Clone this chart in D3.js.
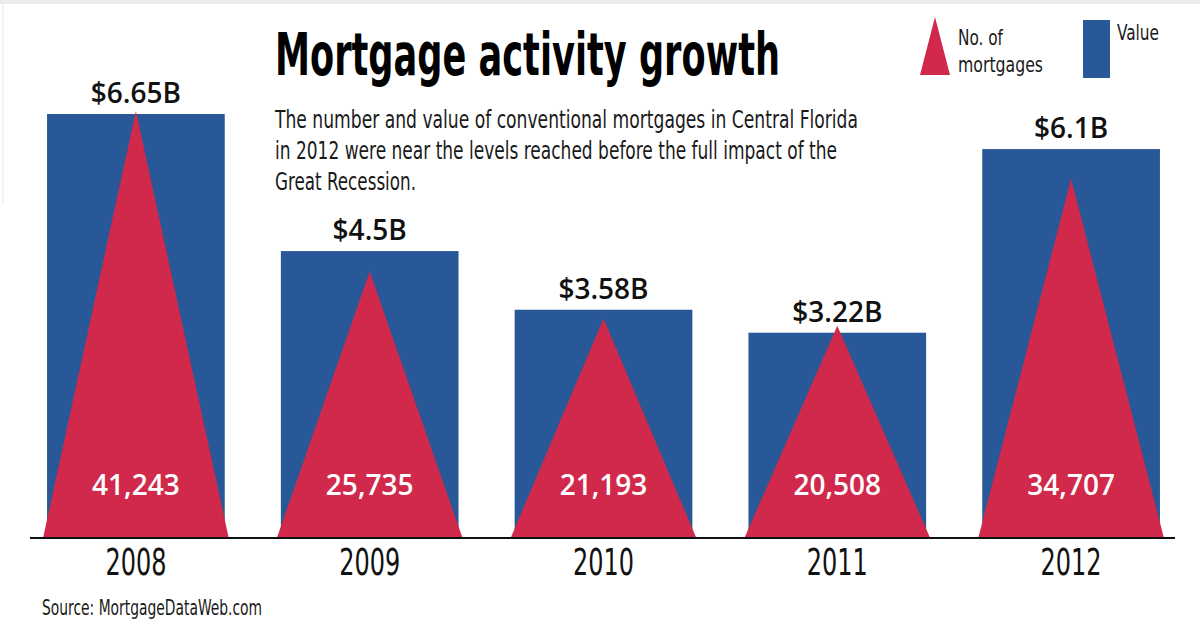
<!DOCTYPE html>
<html><head><meta charset="utf-8">
<script src="https://cdn.jsdelivr.net/npm/d3@7"></script>
<style>html,body{margin:0;padding:0;background:#fff;}svg{display:block;}</style>
</head><body>
<script>
const years = ["2008","2009","2010","2011","2012"];
const valuesB = [6.65, 4.5, 3.58, 3.22, 6.1];
const valueLabels = ["$6.65B","$4.5B","$3.58B","$3.22B","$6.1B"];
const mortgageCounts = [41243, 25735, 21193, 20508, 34707];
const countLabels = ["41,243","25,735","21,193","20,508","34,707"];
const subtitleLines = [
  "The number and value of conventional mortgages in Central Florida",
  "in 2012 were near the levels reached before the full impact of the",
  "Great Recession."
];
const legendLines = ["No. of", "mortgages"];

const W = 1200, H = 627;
const BLUE = "#285897", RED = "#d0294b";
const COND = "'Liberation Sans Narrow','DejaVu Sans Condensed','Open Sans',sans-serif";
const SEMI = "'Open Sans','Noto Sans',sans-serif";

const svg = d3.select("body").append("svg").attr("width", W).attr("height", H);
svg.append("rect").attr("width", W).attr("height", H).attr("fill", "#fff");
svg.append("rect").attr("x", 0).attr("y", 0).attr("width", W).attr("height", 4).attr("fill", "#ebebeb");
svg.append("rect").attr("x", 2).attr("y", 4).attr("width", 2).attr("height", 200).attr("fill", "#f3f3f3");

const baseY = 538;
const x = d3.scaleBand().domain(years).range([19, 1188]).paddingInner(0.24).paddingOuter(0.12);
const yVal = d3.scaleLinear().domain([0, 6.65]).range([baseY, 114]);
const yCnt = d3.scaleLinear().domain([0, 41243]).range([baseY, 111]);

const data = years.map((y, i) => ({year: y, v: valuesB[i], vl: valueLabels[i], c: mortgageCounts[i], cl: countLabels[i]}));

// bars
svg.append("g").selectAll("rect").data(data).join("rect")
  .attr("x", d => x(d.year)).attr("width", x.bandwidth())
  .attr("y", d => yVal(d.v)).attr("height", d => baseY - yVal(d.v))
  .attr("fill", BLUE);

// triangles
const half = x.bandwidth() / 2 + 4;
svg.append("g").selectAll("path").data(data).join("path")
  .attr("d", d => {
    const cx = x(d.year) + x.bandwidth() / 2;
    return `M${cx - half},${baseY}L${cx},${yCnt(d.c)}L${cx + half},${baseY}Z`;
  })
  .attr("fill", RED);

// value labels
svg.append("g").selectAll("text").data(data).join("text")
  .attr("x", d => x(d.year) + x.bandwidth() / 2)
  .attr("y", d => yVal(d.v) - 11)
  .attr("text-anchor", "middle")
  .style("font-family", SEMI).style("font-weight", 600).style("font-size", "28px")
  .attr("fill", "#111").text(d => d.vl);

// count labels
svg.append("g").selectAll("text").data(data).join("text")
  .attr("x", d => x(d.year) + x.bandwidth() / 2)
  .attr("y", 495)
  .attr("text-anchor", "middle")
  .style("font-family", SEMI).style("font-weight", 600).style("font-size", "28px")
  .attr("fill", "#fff").text(d => d.cl);

// axis
const axisG = svg.append("g").attr("transform", `translate(0,${baseY})`)
  .call(d3.axisBottom(x).tickSize(0).tickPadding(0));
axisG.select(".domain").remove();
axisG.selectAll("text").remove();
svg.append("line").attr("x1", 30).attr("x2", 1175).attr("y1", baseY).attr("y2", baseY)
  .attr("stroke", "#111").attr("stroke-width", 2.2);
svg.append("g").selectAll("text").data(years).join("text")
  .attr("x", d => x(d) + x.bandwidth() / 2 - 30.5)
  .attr("y", 575)
  .attr("textLength", 61).attr("lengthAdjust", "spacingAndGlyphs")
  .style("font-family", COND).style("font-size", "38px")
  .attr("fill", "#111").text(d => d);

// title
svg.append("text").attr("x", 275).attr("y", 75)
  .attr("textLength", 505).attr("lengthAdjust", "spacingAndGlyphs")
  .style("font-family", COND).style("font-weight", 700).style("font-size", "58px")
  .attr("fill", "#000").text("Mortgage activity growth");

// subtitle
const subW = [583, 562, 141];
const subY = [128, 159, 190];
svg.append("g").selectAll("text").data(subtitleLines).join("text")
  .attr("x", 275).attr("y", (d, i) => subY[i])
  .attr("textLength", (d, i) => subW[i]).attr("lengthAdjust", "spacingAndGlyphs")
  .style("font-family", COND).style("font-size", "25px")
  .attr("fill", "#1a1a1a").text(d => d);

// legend
svg.append("path").attr("d", "M920,75L935,17L950,75Z").attr("fill", RED);
svg.append("rect").attr("x", 1083).attr("y", 20).attr("width", 27).attr("height", 58).attr("fill", BLUE);
const legW = [45, 85], legY = [45, 72];
svg.append("text").attr("x", 958)
  .style("font-family", COND).style("font-size", "22px").attr("fill", "#1a1a1a")
  .selectAll("tspan").data(legendLines).join("tspan")
  .attr("x", 958).attr("y", (d, i) => legY[i])
  .attr("textLength", (d, i) => legW[i]).attr("lengthAdjust", "spacingAndGlyphs")
  .text(d => d);
svg.append("text").attr("x", 1117).attr("y", 40).attr("textLength", 42).attr("lengthAdjust", "spacingAndGlyphs")
  .style("font-family", COND).style("font-size", "22px").attr("fill", "#1a1a1a").text("Value");

// source
svg.append("text").attr("x", 42).attr("y", 615).attr("textLength", 220).attr("lengthAdjust", "spacingAndGlyphs")
  .style("font-family", COND).style("font-size", "21px").attr("fill", "#1a1a1a").text("Source: MortgageDataWeb.com");
</script>
</body></html>
